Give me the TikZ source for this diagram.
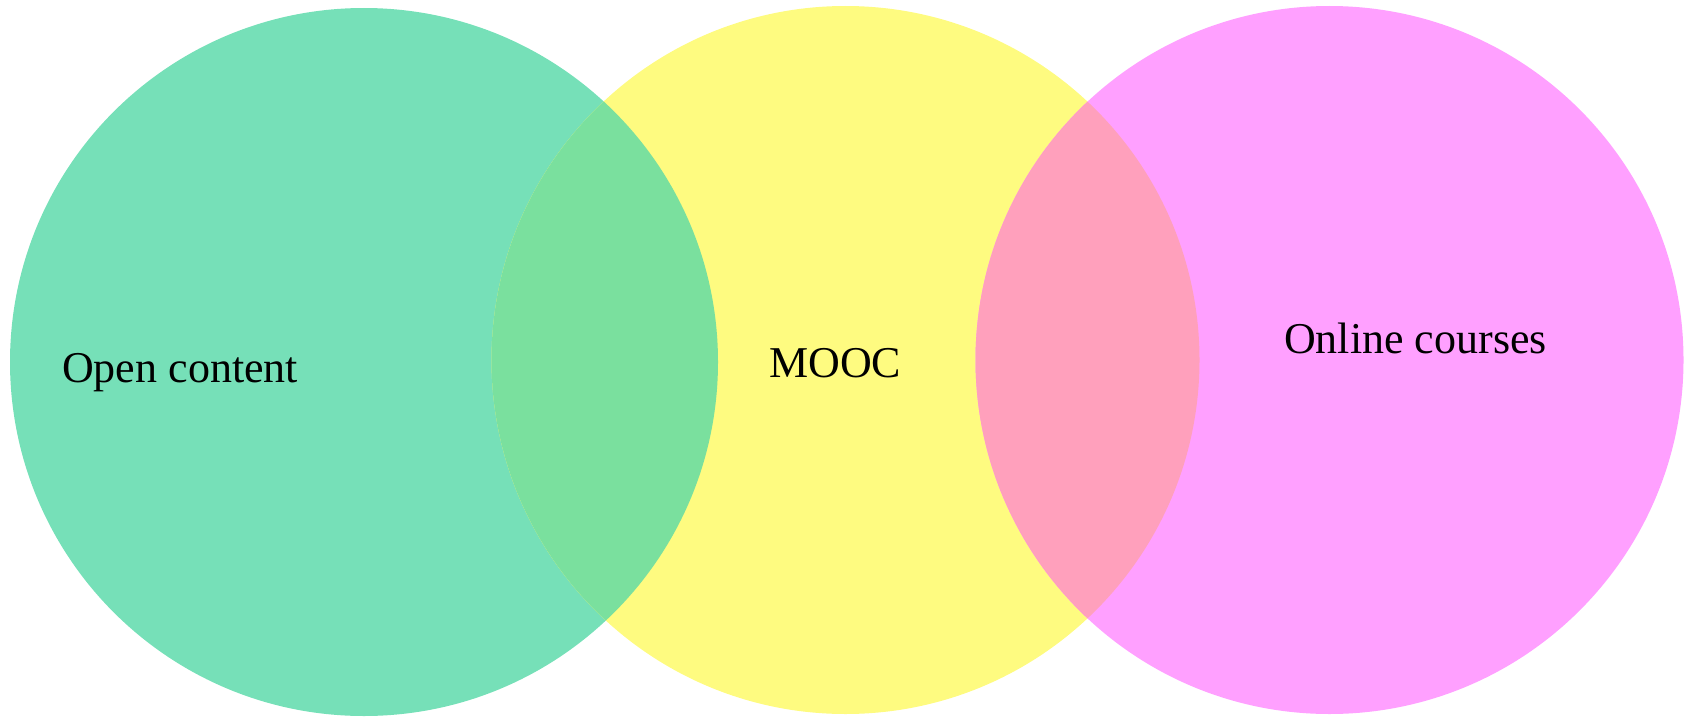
\documentclass[tikz,border=0pt]{standalone}
\usepackage{fontspec}
\setmainfont{Liberation Serif}
\definecolor{cgreen}{HTML}{76E0B8}
\definecolor{cyellow}{HTML}{FEFB80}
\definecolor{cmagenta}{HTML}{FFA0FF}
\definecolor{cgy}{HTML}{7AE09E}
\definecolor{cym}{HTML}{FFA0BC}
\begin{document}
\begin{tikzpicture}[x=1pt,y=-1pt,
  lbl/.style={font=\fontsize{44}{50}\selectfont, anchor=base west, inner sep=0pt, text=black}]
\useasboundingbox (0,0) rectangle (1694,717);
\def\R{354}
\coordinate (G) at (364,362);
\coordinate (Y) at (845.5,360);
\coordinate (M) at (1329.5,360);
\fill[cgreen] (G) circle (\R);
\fill[cyellow] (Y) circle (\R);
\fill[cmagenta] (M) circle (\R);
\begin{scope}
  \clip (G) circle (\R);
  \fill[cgy] (Y) circle (\R);
\end{scope}
\begin{scope}
  \clip (Y) circle (\R);
  \fill[cym] (M) circle (\R);
\end{scope}
\node[lbl] (open) at (62,382) {Open content};
\node[lbl] (mooc) at (769,377) {MOOC};
\node[lbl] (online) at (1284,353) {Online courses};
\end{tikzpicture}
\end{document}
